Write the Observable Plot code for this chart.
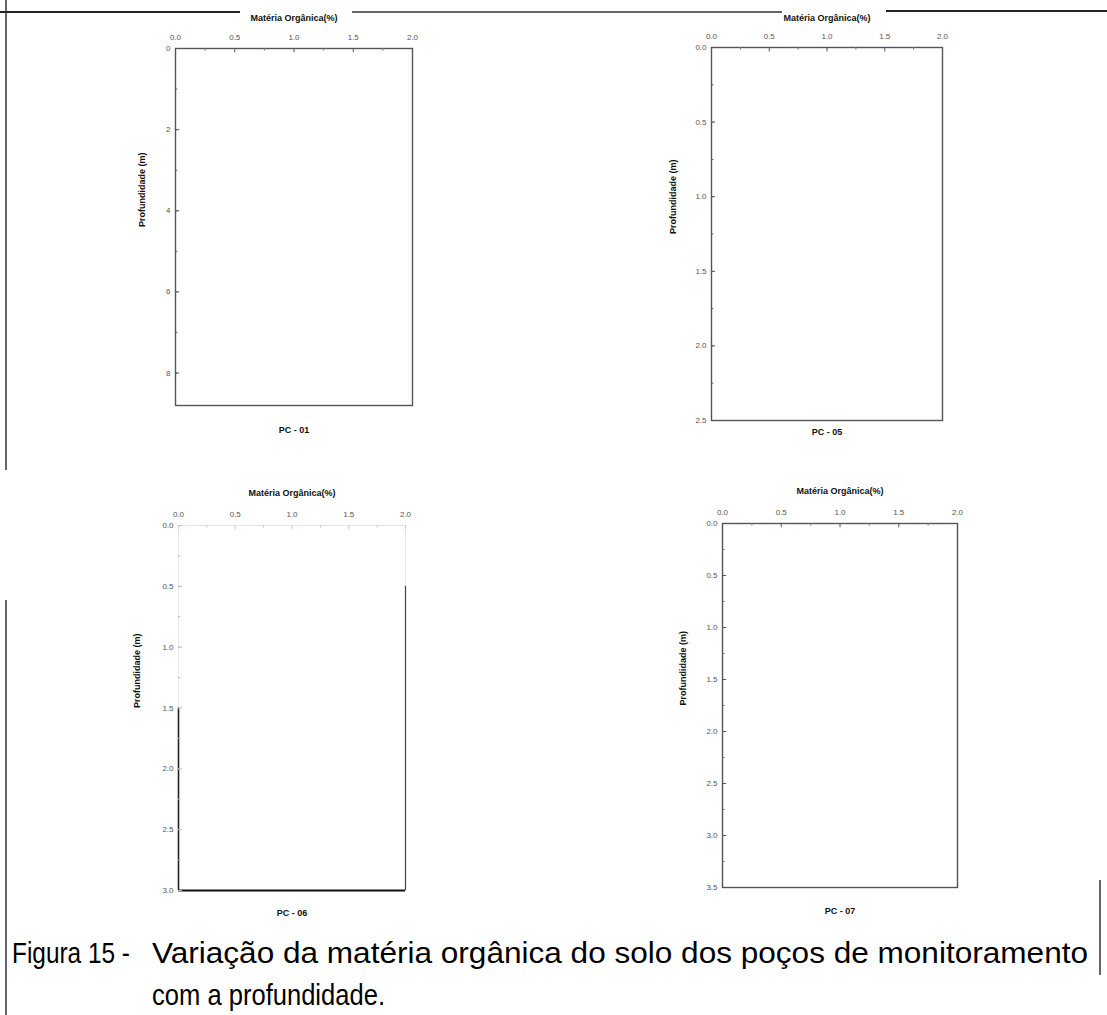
<!DOCTYPE html>
<html>
<head>
<meta charset="utf-8">
<script src="https://cdn.jsdelivr.net/npm/d3@7"></script>
<script src="https://cdn.jsdelivr.net/npm/@observablehq/plot@0.6"></script>
<style>
  html, body { margin: 0; padding: 0; background: #fff; }
  #page { position: relative; width: 1107px; height: 1015px; overflow: hidden; background: #fff; }
  #page > svg, #page > figure { position: absolute; margin: 0; }
</style>
</head>
<body>
<div id="page"></div>
<script>
// Wells (monitoring boreholes) shown one per panel
const wells = ["PC - 01", "PC - 05", "PC - 06", "PC - 07"];
// Organic matter axis (%), shared by every panel
const organicDomain = [0, 2];
const organicTicks = [0, 0.5, 1.0, 1.5, 2.0];
// Depth axis (m) of each well
const depthMax = [8.8, 2.5, 3.0, 3.5];
const depthTicks = [
  [0, 2, 4, 6, 8],
  [0, 0.5, 1.0, 1.5, 2.0, 2.5],
  [0, 0.5, 1.0, 1.5, 2.0, 2.5, 3.0],
  [0, 0.5, 1.0, 1.5, 2.0, 2.5, 3.0, 3.5]
];
const depthFormats = ["d", ".1f", ".1f", ".1f"];
const titleText = "Matéria Orgânica(%)";
const depthLabel = "Profundidade (m)";

// Page placement of each panel's plotting frame
const layout = [
  {frame: [175, 412, 48, 405], titleY: 14, yTitleX: 142, wellY: 432},
  {frame: [711, 942, 47, 420], titleY: 14, yTitleX: 673, wellY: 434},
  {frame: [178, 405, 525, 890], titleY: 489, yTitleX: 137, wellY: 915},
  {frame: [722, 957, 523, 887], titleY: 487, yTitleX: 683, wellY: 913}
];

const page = document.getElementById("page");

function panel(i) {
  const [fx0, fx1, fy0, fy1] = layout[i].frame;
  const left = fx0 - 90, top = fy0 - 45;
  const width = (fx1 - fx0) + 90 + 20;
  const height = (fy1 - fy0) + 45 + 40;
  const dMax = depthMax[i];
  const minor = d3.range(0, dMax + 1e-9, depthTicks[i][1] / 2);
  const tickLen = 0.035;           // inward tick length, in % units
  const topLen = dMax * 0.012;     // inward tick length, in depth units
  const faded = i === 2;           // lower-left sheet is washed out at the top

  const frameMarks = faded
    ? [
        Plot.ruleY([0], {stroke: "#e4e4e4", strokeWidth: 1}),
        Plot.ruleX([organicDomain[0]], {y1: 0, y2: 1.5, stroke: "#e8e8e8"}),
        Plot.ruleX([organicDomain[0]], {y1: 1.5, y2: dMax, stroke: "#222", strokeWidth: 1.6}),
        Plot.ruleX([organicDomain[1]], {y1: 0, y2: 0.5, stroke: "#e8e8e8"}),
        Plot.ruleX([organicDomain[1]], {y1: 0.5, y2: dMax, stroke: "#444", strokeWidth: 1.2}),
        Plot.ruleY([dMax], {stroke: "#111", strokeWidth: 2.2})
      ]
    : [Plot.frame({stroke: "#555", strokeWidth: 1.4})];

  const svg = Plot.plot({
    width, height,
    marginLeft: 90, marginRight: 20, marginTop: 45, marginBottom: 40,
    style: {fontFamily: "Liberation Sans, Arial, sans-serif", fontSize: "8px", color: "#555", background: "transparent"},
    x: {domain: organicDomain, axis: "top", ticks: organicTicks, tickFormat: d3.format(".1f"),
        tickSize: 0, tickPadding: 9, label: null},
    y: {domain: [0, dMax], reverse: true, ticks: depthTicks[i], tickFormat: d3.format(depthFormats[i]),
        tickSize: 0, tickPadding: 5, label: null},
    marks: [
      ...frameMarks,
      // inward ticks on the depth axis (major and minor)
      Plot.ruleY(minor, {x1: organicDomain[0], x2: organicDomain[0] + tickLen * 0.6, stroke: faded ? "#bbb" : "#666"}),
      Plot.ruleY(depthTicks[i], {x1: organicDomain[0], x2: organicDomain[0] + tickLen, stroke: faded ? "#bbb" : "#555"}),
      // inward ticks on the organic matter axis
      Plot.ruleX(organicTicks, {y1: 0, y2: topLen, stroke: faded ? "#ccc" : "#555"}),
      Plot.ruleX(d3.range(0.25, 2, 0.5), {y1: 0, y2: topLen * 0.6, stroke: faded ? "#ccc" : "#777"}),
      Plot.text([titleText], {text: d => d, frameAnchor: "top", dy: -(fy0 - layout[i].titleY),
        fontWeight: "bold", fontSize: 9, fill: "#111"}),
      Plot.text([depthLabel], {text: d => d, frameAnchor: "left", rotate: -90, dx: -(fx0 - layout[i].yTitleX),
        fontWeight: "bold", fontSize: 9, fill: "#111"}),
      Plot.text([wells[i]], {text: d => d, frameAnchor: "bottom", dy: layout[i].wellY - fy1,
        fontWeight: "bold", fontSize: 9, fill: "#111"})
    ]
  });
  svg.style.left = left + "px";
  svg.style.top = top + "px";
  page.appendChild(svg);
}

wells.forEach((_, i) => panel(i));

// Sheet borders and the figure caption
const ns = "http://www.w3.org/2000/svg";
const deco = document.createElementNS(ns, "svg");
deco.setAttribute("width", 1107);
deco.setAttribute("height", 1015);
deco.style.left = "0px";
deco.style.top = "0px";
deco.style.pointerEvents = "none";
deco.innerHTML = `
  <line x1="0" y1="12" x2="240" y2="12" stroke="#222" stroke-width="2"/>
  <line x1="352" y1="12" x2="782" y2="12" stroke="#333" stroke-width="1.6"/>
  <line x1="886" y1="11" x2="1107" y2="11" stroke="#222" stroke-width="2"/>
  <line x1="6" y1="0" x2="6" y2="470" stroke="#333" stroke-width="1.5"/>
  <line x1="6" y1="600" x2="6" y2="1015" stroke="#333" stroke-width="1.5"/>
  <line x1="1100" y1="880" x2="1100" y2="975" stroke="#333" stroke-width="1.5"/>
  <g font-family="Liberation Sans, Arial, sans-serif" font-size="29" fill="#000">
    <text x="12" y="963" textLength="118" lengthAdjust="spacingAndGlyphs">Figura 15 -</text>
    <text x="152" y="963" textLength="936" lengthAdjust="spacingAndGlyphs">Variação da matéria orgânica do solo dos poços de monitoramento</text>
    <text x="152" y="1005" textLength="233" lengthAdjust="spacingAndGlyphs">com a profundidade.</text>
  </g>`;
page.appendChild(deco);
</script>
</body>
</html>
